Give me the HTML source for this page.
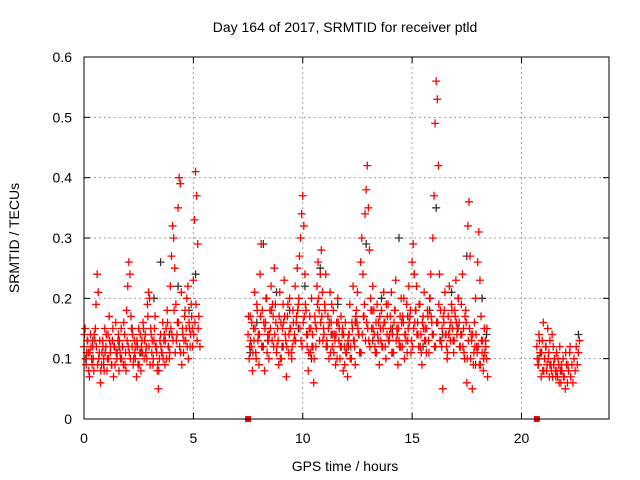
<!DOCTYPE html>
<html><head><meta charset="utf-8"><style>
body{margin:0;background:#fff;}
svg{display:block;font-family:"Liberation Sans",sans-serif;}
</style></head><body>
<svg id="chart" width="640" height="480">
<rect width="640" height="480" fill="#fff"/>
<text x="345" y="32" text-anchor="middle" font-size="14">Day 164 of 2017, SRMTID for receiver ptld</text>
<text x="0" y="0" transform="translate(19,238) rotate(-90)" text-anchor="middle" font-size="14">SRMTID / TECUs</text>
<text x="345" y="471" text-anchor="middle" font-size="14">GPS time / hours</text>
<g id="grid"></g>
<g id="ticks"></g>
<g id="pts"></g>
<rect x="84" y="57" width="525" height="362" fill="none" stroke="#000" stroke-width="1"/>
</svg>
<script>
const xTicks=[0,5,10,15,20];
const yTicks=[0,0.1,0.2,0.3,0.4,0.5,0.6];
const yTickLabels=["0","0.1","0.2","0.3","0.4","0.5","0.6"];
const redHours=[0,0.05,0.1,0.15,0.2,0.25,0.3,0.35,0.4,0.45,0.5,0.55,0.6,0.65,0.7,0.75,0.8,0.85,0.9,0.95,1,1.05,1.1,1.15,1.2,1.25,1.3,1.35,1.4,1.45,1.5,1.55,1.6,1.65,1.7,1.75,1.8,1.85,1.9,1.95,2,2.05,2.1,2.15,2.2,2.25,2.3,2.35,2.4,2.45,2.5,2.55,2.6,2.65,2.7,2.75,2.8,2.85,2.9,2.95,3,3.05,3.1,3.15,3.2,3.25,3.3,3.35,3.4,3.45,3.5,3.55,3.6,3.65,3.7,3.75,3.8,3.85,3.9,3.95,4,4.05,4.1,4.15,4.2,4.25,4.3,4.35,4.4,4.45,4.5,4.55,4.6,4.65,4.7,4.75,4.8,4.85,4.9,4.95,5,5.05,5.1,5.15,5.2,5.25,5.3,
7.5,7.55,7.6,7.65,7.7,7.75,7.8,7.85,7.9,7.95,8,8.05,8.1,8.15,8.2,8.25,8.3,8.35,8.4,8.45,8.5,8.55,8.6,8.65,8.7,8.75,8.8,8.85,8.9,8.95,9,9.05,9.1,9.15,9.2,9.25,9.3,9.35,9.4,9.45,9.5,9.55,9.6,9.65,9.7,9.75,9.8,9.85,9.9,9.95,10,10.05,10.1,10.15,10.2,10.25,10.3,10.35,10.4,10.45,10.5,10.55,10.6,10.65,10.7,10.75,10.8,10.85,10.9,10.95,11,11.05,11.1,11.15,11.2,11.25,11.3,11.35,11.4,11.45,11.5,11.55,11.6,11.65,11.7,11.75,11.8,11.85,11.9,11.95,12,12.05,12.1,12.15,12.2,12.25,12.3,12.35,12.4,12.45,12.5,12.55,12.6,12.65,12.7,12.75,12.8,12.85,12.9,12.95,13,13.05,13.1,13.15,13.2,13.25,13.3,13.35,13.4,13.45,13.5,13.55,13.6,13.65,13.7,13.75,13.8,13.85,13.9,13.95,14,14.05,14.1,14.15,14.2,14.25,14.3,14.35,14.4,14.45,14.5,14.55,14.6,14.65,14.7,14.75,14.8,14.85,14.9,14.95,15,15.05,15.1,15.15,15.2,15.25,15.3,15.35,15.4,15.45,15.5,15.55,15.6,15.65,15.7,15.75,15.8,15.85,15.9,15.95,16,16.05,16.1,16.15,16.2,16.25,16.3,16.35,16.4,16.45,16.5,16.55,16.6,16.65,16.7,16.75,16.8,16.85,16.9,16.95,17,17.05,17.1,17.15,17.2,17.25,17.3,17.35,17.4,17.45,17.5,17.55,17.6,17.65,17.7,17.75,17.8,17.85,17.9,17.95,18,18.05,18.1,18.15,18.2,18.25,18.3,18.35,18.4,18.45,
20.7,20.75,20.8,20.85,20.9,20.95,21,21.05,21.1,21.15,21.2,21.25,21.3,21.35,21.4,21.45,21.5,21.55,21.6,21.65,21.7,21.75,21.8,21.85,21.9,21.95,22,22.05,22.1,22.15,22.2,22.25,22.3,22.35,22.4,22.45,22.5,22.55,22.6,22.65];
const redTec=[0.12,0.15,0.09,0.13,0.11,0.07,0.14,0.10,0.12,0.08,0.13,0.19,0.24,0.21,0.11,0.06,0.09,0.13,0.10,0.15,0.12,0.08,0.14,0.17,0.11,0.09,0.13,0.07,0.12,0.16,0.10,0.13,0.08,0.11,0.15,0.12,0.09,0.14,0.11,0.18,0.22,0.26,0.24,0.17,0.12,0.09,0.13,0.10,0.07,0.12,0.15,0.11,0.08,0.13,0.16,0.10,0.14,0.12,0.19,0.21,0.20,0.15,0.11,0.09,0.13,0.17,0.12,0.08,0.05,0.10,0.14,0.11,0.16,0.13,0.09,0.15,0.18,0.12,0.10,0.22,0.27,0.32,0.30,0.25,0.19,0.14,0.35,0.40,0.39,0.21,0.15,0.11,0.17,0.13,0.20,0.22,0.16,0.12,0.19,0.15,0.23,0.33,0.41,0.37,0.29,0.17,0.12,
0.14,0.10,0.17,0.12,0.08,0.15,0.21,0.11,0.19,0.13,0.09,0.24,0.29,0.18,0.12,0.08,0.16,0.20,0.14,0.10,0.18,0.22,0.13,0.17,0.25,0.19,0.11,0.15,0.09,0.21,0.16,0.12,0.19,0.23,0.14,0.07,0.17,0.11,0.20,0.15,0.10,0.18,0.13,0.22,0.16,0.25,0.19,0.27,0.30,0.34,0.37,0.32,0.24,0.18,0.12,0.08,0.15,0.11,0.20,0.14,0.06,0.17,0.12,0.22,0.26,0.18,0.24,0.28,0.21,0.15,0.19,0.24,0.13,0.17,0.10,0.21,0.16,0.12,0.18,0.14,0.09,0.16,0.20,0.13,0.10,0.17,0.14,0.08,0.12,0.16,0.11,0.07,0.14,0.19,0.12,0.16,0.22,0.13,0.09,0.18,0.21,0.14,0.11,0.26,0.30,0.24,0.17,0.34,0.38,0.42,0.35,0.28,0.20,0.15,0.22,0.18,0.12,0.16,0.19,0.13,0.09,0.15,0.18,0.12,0.21,0.16,0.10,0.14,0.19,0.13,0.17,0.21,0.14,0.11,0.18,0.23,0.15,0.09,0.13,0.17,0.20,0.12,0.16,0.10,0.14,0.19,0.13,0.22,0.17,0.11,0.26,0.29,0.24,0.18,0.22,0.16,0.12,0.19,0.14,0.09,0.17,0.21,0.15,0.11,0.18,0.13,0.20,0.24,0.16,0.30,0.37,0.49,0.56,0.53,0.42,0.24,0.18,0.12,0.05,0.16,0.21,0.14,0.10,0.17,0.22,0.13,0.19,0.15,0.11,0.18,0.23,0.14,0.20,0.16,0.12,0.19,0.24,0.15,0.10,0.18,0.06,0.32,0.36,0.27,0.14,0.05,0.09,0.16,0.20,0.12,0.26,0.31,0.23,0.17,0.11,0.08,0.15,0.13,0.10,0.07,
0.12,0.09,0.14,0.11,0.07,0.13,0.16,0.10,0.12,0.08,0.15,0.11,0.13,0.09,0.14,0.12,0.10,0.08,0.11,0.07,0.09,0.12,0.06,0.08,0.10,0.07,0.05,0.09,0.06,0.08,0.11,0.07,0.09,0.06,0.10,0.08,0.12,0.09,0.11,0.13];
const fillHours=[0.07,0.17,0.27,0.37,0.47,0.57,0.67,0.77,0.87,0.97,1.07,1.17,1.27,1.37,1.47,1.57,1.67,1.77,1.87,1.97,2.07,2.17,2.27,2.37,2.47,2.57,2.67,2.77,2.87,2.97,3.07,3.17,3.27,3.37,3.47,3.57,3.67,3.77,3.87,3.97,4.07,4.17,4.27,4.37,4.47,4.57,4.67,4.77,4.87,4.97,5.07,5.17,7.57,7.67,7.77,7.87,7.97,8.07,8.17,8.27,8.37,8.47,8.57,8.67,8.77,8.87,8.97,9.07,9.17,9.27,9.37,9.47,9.57,9.67,9.77,9.87,9.97,10.07,10.17,10.27,10.37,10.47,10.57,10.67,10.77,10.87,10.97,11.07,11.17,11.27,11.37,11.47,11.57,11.67,11.77,11.87,11.97,12.07,12.17,12.27,12.37,12.47,12.57,12.67,12.77,12.87,12.97,13.07,13.17,13.27,13.37,13.47,13.57,13.67,13.77,13.87,13.97,14.07,14.17,14.27,14.37,14.47,14.57,14.67,14.77,14.87,14.97,15.07,15.17,15.27,15.37,15.47,15.57,15.67,15.77,15.87,15.97,16.07,16.17,16.27,16.37,16.47,16.57,16.67,16.77,16.87,16.97,17.07,17.17,17.27,17.37,17.47,17.57,17.67,17.77,17.87,17.97,18.07,18.17,18.27,18.37,20.77,20.87,20.97,21.07,21.17,21.27,21.37,21.47,21.57,21.67,21.77,21.87,21.97,22.07,22.17,22.27,22.37,22.47,22.57];
const fillTec=[0.10,0.13,0.11,0.09,0.14,0.12,0.10,0.08,0.12,0.11,0.10,0.13,0.09,0.12,0.11,0.14,0.10,0.12,0.09,0.13,0.11,0.15,0.10,0.12,0.09,0.14,0.11,0.13,0.10,0.12,0.14,0.10,0.12,0.09,0.13,0.11,0.14,0.10,0.12,0.15,0.13,0.11,0.16,0.12,0.09,0.13,0.15,0.10,0.14,0.12,0.16,0.13,0.12,0.16,0.13,0.10,0.14,0.17,0.12,0.15,0.11,0.14,0.18,0.12,0.16,0.13,0.10,0.15,0.17,0.12,0.14,0.11,0.16,0.13,0.18,0.15,0.12,0.17,0.14,0.11,0.15,0.12,0.16,0.19,0.13,0.17,0.14,0.12,0.15,0.11,0.14,0.13,0.10,0.15,0.12,0.14,0.11,0.13,0.10,0.15,0.12,0.16,0.14,0.11,0.17,0.13,0.15,0.12,0.18,0.14,0.11,0.16,0.13,0.15,0.12,0.17,0.14,0.11,0.16,0.13,0.15,0.12,0.17,0.14,0.11,0.16,0.13,0.15,0.18,0.14,0.12,0.16,0.13,0.15,0.11,0.17,0.14,0.12,0.16,0.13,0.15,0.18,0.12,0.14,0.16,0.13,0.17,0.15,0.12,0.14,0.11,0.16,0.13,0.10,0.14,0.12,0.11,0.09,0.13,0.10,0.12,0.09,0.11,0.08,0.10,0.09,0.07,0.08,0.09,0.07,0.10,0.08];
const fill2Hours=[0.02,0.12,0.22,0.32,0.42,0.52,0.62,0.72,0.82,0.92,1.02,1.12,1.22,1.32,1.42,1.52,1.62,1.72,1.82,1.92,2.02,2.12,2.22,2.32,2.42,2.52,2.62,2.72,2.82,2.92,3.02,3.12,3.22,3.32,3.42,3.52,3.62,3.72,3.82,3.92,4.02,4.12,4.22,4.32,4.42,4.52,4.62,4.72,4.82,4.92,5.02,5.12,5.22,7.52,7.62,7.72,7.82,7.92,8.02,8.12,8.22,8.32,8.42,8.52,8.62,8.72,8.82,8.92,9.02,9.12,9.22,9.32,9.42,9.52,9.62,9.72,9.82,9.92,10.02,10.12,10.22,10.32,10.42,10.52,10.62,10.72,10.82,10.92,11.02,11.12,11.22,11.32,11.42,11.52,11.62,11.72,11.82,11.92,12.02,12.12,12.22,12.32,12.42,12.52,12.62,12.72,12.82,12.92,13.02,13.12,13.22,13.32,13.42,13.52,13.62,13.72,13.82,13.92,14.02,14.12,14.22,14.32,14.42,14.52,14.62,14.72,14.82,14.92,15.02,15.12,15.22,15.32,15.42,15.52,15.62,15.72,15.82,15.92,16.02,16.12,16.22,16.32,16.42,16.52,16.62,16.72,16.82,16.92,17.02,17.12,17.22,17.32,17.42,17.52,17.62,17.72,17.82,17.92,18.02,18.12,18.22,18.32,18.42,20.72,20.82,20.92,21.02,21.12,21.22,21.32,21.42,21.52,21.62,21.72,21.82,21.92,22.02,22.12,22.22,22.32,22.42,22.52,22.62];
const fill2Tec=[0.14,0.11,0.08,0.12,0.10,0.15,0.09,0.13,0.11,0.08,0.14,0.10,0.12,0.15,0.09,0.11,0.13,0.10,0.16,0.08,0.12,0.10,0.14,0.11,0.13,0.09,0.12,0.15,0.11,0.17,0.09,0.13,0.15,0.11,0.08,0.12,0.10,0.13,0.16,0.11,0.14,0.18,0.13,0.16,0.11,0.14,0.18,0.12,0.15,0.17,0.14,0.19,0.15,0.17,0.13,0.11,0.15,0.18,0.14,0.12,0.16,0.20,0.13,0.15,0.19,0.14,0.12,0.17,0.10,0.16,0.13,0.19,0.15,0.12,0.14,0.17,0.20,0.13,0.16,0.19,0.14,0.17,0.12,0.10,0.15,0.20,0.16,0.13,0.18,0.12,0.16,0.19,0.11,0.14,0.16,0.12,0.15,0.09,0.12,0.14,0.10,0.13,0.17,0.15,0.11,0.14,0.19,0.16,0.13,0.18,0.15,0.11,0.14,0.17,0.12,0.16,0.19,0.13,0.15,0.11,0.18,0.14,0.12,0.16,0.20,0.13,0.15,0.18,0.12,0.16,0.14,0.19,0.11,0.15,0.13,0.17,0.20,0.14,0.12,0.16,0.19,0.13,0.17,0.14,0.11,0.15,0.18,0.13,0.16,0.20,0.14,0.12,0.17,0.10,0.15,0.13,0.11,0.14,0.12,0.09,0.13,0.11,0.15,0.10,0.13,0.11,0.08,0.12,0.10,0.09,0.07,0.10,0.08,0.06,0.09,0.07,0.11,0.09,0.12];
const blackHours=[0.1,0.4,0.9,1.6,2.2,2.6,3.2,3.5,3.9,4.3,4.8,5.1,7.6,7.9,8.2,8.4,8.8,9.1,9.4,9.8,10.1,10.4,10.8,11.3,11.6,12.1,12.4,12.9,13.2,13.6,14.1,14.4,14.8,15.1,15.5,15.8,16.1,16.4,16.8,17.1,17.5,17.9,18.2,18.4,20.8,21.3,21.8,22.6];
const blackTec=[0.10,0.13,0.09,0.12,0.15,0.11,0.20,0.26,0.14,0.22,0.18,0.24,0.11,0.16,0.29,0.13,0.21,0.12,0.18,0.15,0.22,0.10,0.25,0.14,0.19,0.12,0.16,0.29,0.13,0.20,0.15,0.30,0.17,0.24,0.12,0.18,0.35,0.14,0.21,0.15,0.27,0.09,0.20,0.14,0.10,0.09,0.08,0.14];
const gapHours=[7.5,20.7];
const gapTec=[0,0];

const X0=84,X1=609,Y0=419,Y1=57;
const sx=v=>X0+v/24*(X1-X0);
const sy=v=>Y0-v/0.6*(Y0-Y1);
const NS="http://www.w3.org/2000/svg";
const grid=document.getElementById('grid'),ticks=document.getElementById('ticks'),pts=document.getElementById('pts');
function mk(tag,attrs,parent){const e=document.createElementNS(NS,tag);for(const k in attrs)e.setAttribute(k,attrs[k]);parent.appendChild(e);return e;}
xTicks.forEach(t=>{
  const x=sx(t);
  if(t>0){const g=mk('line',{x1:x,x2:x,y1:Y0,y2:Y1,stroke:'#a0a0a0','stroke-dasharray':'2,3'},grid);
  
  }
  const a=mk('line',{x1:x,x2:x,y1:Y0,y2:Y0-6,stroke:'#000'},ticks);
  
  
  const b=mk('line',{x1:x,x2:x,y1:Y1,y2:Y1+6,stroke:'#000'},ticks);
  
  
  const l=mk('text',{x:x,y:443,'text-anchor':'middle','font-size':14},ticks);l.textContent=String(t);
  
  
});
yTicks.forEach((t,i)=>{
  const y=sy(t);
  if(i>0&&i<yTicks.length-1){const g=mk('line',{x1:X0,x2:X1,y1:y,y2:y,stroke:'#a0a0a0','stroke-dasharray':'2,3'},grid);
  
  }
  const a=mk('line',{x1:X0,x2:X0+6,y1:y,y2:y,stroke:'#000'},ticks);
  
  
  const b=mk('line',{x1:X1,x2:X1-6,y1:y,y2:y,stroke:'#000'},ticks);
  
  
  const l=mk('text',{x:72,y:y+5,'text-anchor':'end','font-size':14},ticks);l.textContent=yTickLabels[i];
  
  
});
function plus(hs,vs,color,name){
  hs.forEach((h,i)=>{
    const x=sx(h),y=sy(vs[i]);
    const p=mk('path',{d:`M${x-4},${y}h8M${x},${y-4}v8`,stroke:color,'stroke-width':1.3,fill:'none'},pts);
    
    
  });
}
plus(blackHours,blackTec,'#333','black-point');
plus(fill2Hours,fill2Tec,'#ff0000','red-point');
plus(fillHours,fillTec,'#ff0000','red-point');
plus(redHours,redTec,'#ff0000','red-point');
gapHours.forEach((h,i)=>{
  const r=mk('rect',{x:sx(h)-3,y:sy(gapTec[i])-3,width:6,height:6,fill:'#ff0000'},pts);
  
  
});
</script>
</body></html>
